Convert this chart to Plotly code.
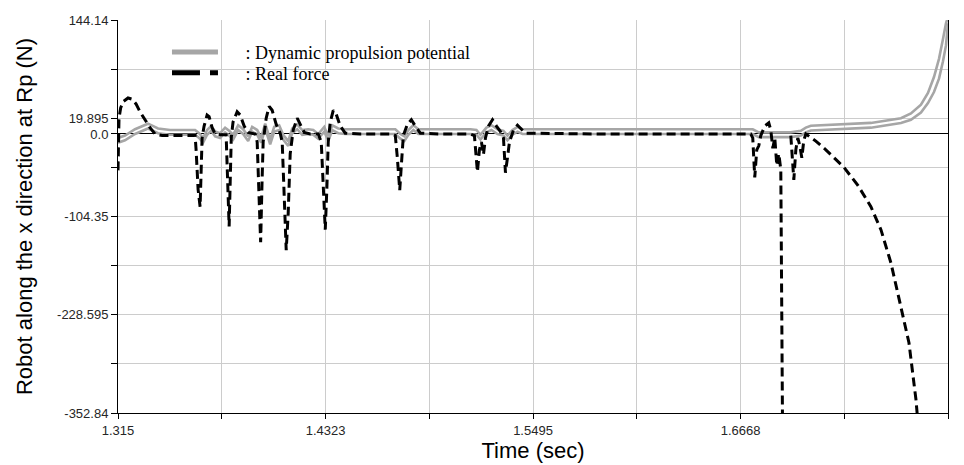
import plotly.graph_objects as go

# ---------------- data ----------------
# Real force (black dashed)
force_t = [
    1.31500, 1.31530, 1.31557, 1.31650, 1.31800, 1.32066, 1.32292, 1.32518, 1.32745, 1.33028,
    1.33310, 1.33593, 1.34000, 1.35000, 1.35856,
    1.35913, 1.36026, 1.36139, 1.36190, 1.36252, 1.36365, 1.36535, 1.36648, 1.36818, 1.36988,
    1.37271, 1.37610,
    1.37680, 1.37780, 1.37840, 1.37900, 1.38000, 1.38233, 1.38402, 1.38628, 1.38855, 1.39251,
    1.39364, 1.39560, 1.39640, 1.39703, 1.39873, 1.40043, 1.40212, 1.40439, 1.40665,
    1.40778, 1.41005, 1.41118, 1.41230, 1.41400, 1.41627, 1.41797, 1.42023, 1.42362, 1.42815,
    1.42985, 1.43211, 1.43300, 1.43380, 1.43494, 1.43664, 1.43833, 1.44059, 1.44342, 1.45191, 1.47000,
    1.47171, 1.47284, 1.47420, 1.47510, 1.47624, 1.47850, 1.48076, 1.48302, 1.48585, 1.49717, 1.51414,
    1.51640, 1.51810, 1.51923, 1.52036, 1.52150, 1.52263, 1.52432, 1.52659, 1.52885, 1.53111,
    1.53281, 1.53394, 1.53507, 1.53621, 1.53847, 1.54073, 1.54299, 1.54526, 1.58769, 1.64426, 1.67255,
    1.67368, 1.67481, 1.67594, 1.67708, 1.67821, 1.68047, 1.68273, 1.68386, 1.68500, 1.68613,
    1.68726, 1.68839, 1.68952, 1.69065, None,
    1.69518, 1.69688, 1.69801, 1.69914, 1.70027, 1.70140, 1.70253, 1.70366,
    1.70932, 1.71498, 1.72516, 1.73308, 1.74044, 1.74610, 1.75175, 1.75741, 1.76194, 1.76590, 1.76759,
]
force_v = [
    -46, -10, 20, 33, 41, 45.5, 44, 38, 28, 18,
    8, 0, -2, -2, -2,
    -20, -70, -92, -50, -5, 10, 24, 22, 8, 0,
    -1, -1,
    -40, -117, -60, -5, 15, 28, 24, 10, 2, 0,
    -10, -137, -60, -10, 20, 35, 30, 12, 1,
    -10, -147, -100, -25, 5, 20, 12, 2, 0, 0,
    -10, -121, -70, -10, 15, 30, 25, 10, 1, 0, 0,
    -2, -30, -71, -40, -2, 12, 18, 10, 1, 0, 0,
    -2, -48, -20, -10, -26, -5, 10, 18, 10, 3,
    -5, -49, -30, -10, 5, 11, 6, 1, 0, 0, 0,
    -5, -55, -20, -15, -2, 10, 14, 5, -18, -5,
    -40, -25, -45, -420, None,
    -2, -58, -20, -5, -15, -30, -8, 0,
    -9, -20, -42, -65, -92, -121, -163, -219, -264, -336, -380,
]

# Dynamic propulsion potential (grey double line)
pot_t = [
    1.31500, 1.31896, 1.32462, 1.33197, 1.33763, 1.34442, 1.35856, 1.36083, 1.36309, 1.36535,
    1.36761, 1.36988, 1.37271, 1.37553, 1.37780, 1.38006, 1.38289, 1.38572, 1.38855, 1.39081,
    1.39364, 1.39590, 1.39816, 1.40099, 1.40326, 1.40608, 1.40835, 1.41118, 1.41344, 1.41627,
    1.41910, 1.42249, 1.42532, 1.42815, 1.43154, 1.43381, 1.43607, 1.43946, 1.44342, 1.47171,
    1.47454, 1.47680, 1.47907, 1.48189, 1.48472, 1.48868, 1.51414, 1.51754, 1.51980, 1.52319,
    1.52602, 1.52942, 1.53281, 1.53507, 1.53790, 1.54073, 1.54356, 1.54809, 1.67368, 1.67708,
    1.68386, 1.69518, 1.70084, 1.70366, 1.70649, 1.72516, 1.74044, 1.75741, 1.76306, 1.76872,
    1.77268, 1.77608, 1.77891, 1.78117, 1.78286, 1.78400,
]
pot_upper = [
    -5, -2, 6, 13, 7, 5, 5, 1, -5, 5,
    10, 3, 1, 8, 4, -1, 11, 6, -3, 9,
    5, -5, 13, -7, 9, 11, -1, -9, 7, 12,
    5, 6, 5, 0, 9, -3, 11, 7, 6, 6,
    0, -3, 5, 11, 6, 6, 6, 5, -1, 8,
    11, 6, 4, -2, 5, 9, 6, 6, 6, 2,
    2, 2, 4, 8, 10.5, 12, 14, 20, 26, 37,
    52, 72, 95, 120, 140, 148,
]
pot_lower = [
    -11, -8, 0, 7, 1, -1, -1, -5, -11, -1,
    4, -3, -5, 2, -2, -7, 5, 0, -9, 3,
    -1, -11, 7, -13, 3, 5, -7, -15, 1, 6,
    -1, 0, -1, -6, 3, -9, 5, 1, 0, 0,
    -6, -9, -1, 5, 0, 0, 0, -1, -7, 2,
    5, 0, -2, -8, -1, 3, 0, 0, 0, -4,
    -4, -4, -2, 2, 4.5, 6, 8, 14, 18, 27,
    39, 53, 70, 92, 112, 140,
]

y_grid = [144.14, 82.0175, 19.895, 0.0, -42.2275, -104.35, -166.4725, -228.595, -290.7175, -352.84]
y_text = ["144.14", "", "19.895", "0.0", "", "-104.35", "", "-228.595", "", "-352.84"]
x_grid = [1.315, 1.37363, 1.4323, 1.49090, 1.5495, 1.60815, 1.6668, 1.72540, 1.784]
x_text = ["1.315", "", "1.4323", "", "1.5495", "", "1.6668", "", "1.784"]

legend_names = [": Dynamic propulsion potential", ": Real force"]

# ---------------- figure ----------------
GREY = "#a6a6a6"
pad = "\u00a0" * 5

fig = go.Figure()
fig.add_trace(go.Scatter(x=pot_t, y=pot_upper, mode="lines", showlegend=False,
                         line=dict(color=GREY, width=2.6), hoverinfo="skip"))
fig.add_trace(go.Scatter(x=pot_t, y=pot_lower, mode="lines", showlegend=False,
                         line=dict(color=GREY, width=2.6), hoverinfo="skip"))
fig.add_trace(go.Scatter(x=force_t, y=force_v, mode="lines", showlegend=False,
                         connectgaps=False,
                         line=dict(color="black", width=3, dash="9px,5px"), hoverinfo="skip"))
# legend entries
fig.add_trace(go.Scatter(x=[None], y=[None], mode="lines", name=pad + legend_names[0],
                         line=dict(color=GREY, width=5), legend="legend"))
fig.add_trace(go.Scatter(x=[None], y=[None], mode="lines", name=pad + legend_names[1],
                         line=dict(color="black", width=5, dash="28px,10px"), legend="legend2"))

tick_font = dict(family="Liberation Sans, Arial, sans-serif", size=13, color="#262626")
leg_font = dict(family="Liberation Serif, Times New Roman, serif", size=18, color="black")
title_font = dict(family="Liberation Sans, Arial, sans-serif", size=22, color="black")

fig.update_layout(
    width=964, height=465,
    margin=dict(l=118, r=16, t=20, b=52, autoexpand=False),
    paper_bgcolor="white", plot_bgcolor="white",
    legend=dict(x=0.059, y=0.965, xanchor="left", yanchor="top", bgcolor="rgba(0,0,0,0)",
                font=leg_font, itemwidth=46),
    legend2=dict(x=0.059, y=0.912, xanchor="left", yanchor="top", bgcolor="rgba(0,0,0,0)",
                 font=leg_font, itemwidth=46),
    xaxis=dict(range=[1.315, 1.784], tickmode="array", tickvals=x_grid, ticktext=x_text,
               showgrid=True, gridcolor="#cccccc", gridwidth=1, automargin=False,
               showline=True, linecolor="black", linewidth=1, mirror=False,
               ticks="outside", ticklen=5, tickcolor="black", tickfont=tick_font,
               zeroline=False,
               title=dict(text="Time (sec)", font=title_font, standoff=4)),
    yaxis=dict(range=[-352.84, 144.14], tickmode="array", tickvals=y_grid, ticktext=y_text,
               showgrid=True, gridcolor="#cccccc", gridwidth=1, automargin=False,
               showline=True, linecolor="black", linewidth=1, mirror=True,
               ticks="outside", ticklen=6, tickcolor="black", tickfont=tick_font,
               zeroline=True, zerolinecolor="black", zerolinewidth=1,
               title=dict(text="Robot along the x direction at Rp (N)", font=title_font, standoff=18)),
)

fig.write_html("out.html", config={"displayModeBar": False},
               post_script="document.body.style.margin='0';document.body.style.overflow='hidden';")
